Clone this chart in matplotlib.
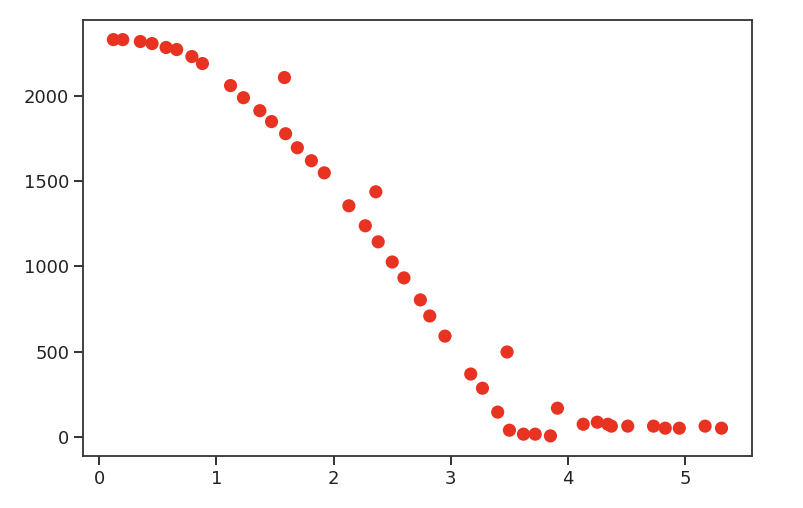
import numpy as np
import matplotlib
matplotlib.use("Agg")
import matplotlib.pyplot as plt

# values
x = [0.12, 0.20, 0.35, 0.45, 0.57, 0.66, 0.79, 0.88, 1.12, 1.23,
     1.37, 1.47, 1.59, 1.58, 1.69, 1.81, 1.92, 2.13, 2.27, 2.36,
     2.38, 2.50, 2.60, 2.74, 2.82, 2.95, 3.17, 3.27, 3.40, 3.48,
     3.50, 3.62, 3.72, 3.85, 3.91, 4.13, 4.25, 4.34, 4.37, 4.51,
     4.73, 4.83, 4.95, 5.17, 5.31]
y = [2328, 2328, 2317, 2305, 2282, 2270, 2229, 2188, 2059, 1988,
     1912, 1848, 1777, 2106, 1695, 1619, 1548, 1355, 1238, 1437,
     1144, 1026, 933, 804, 710, 592, 370, 287, 147, 499,
     41, 18, 18, 8, 170, 76, 88, 76, 65, 65,
     65, 53, 53, 65, 53]

fig = plt.figure(figsize=(8.04, 5.08), dpi=100)
ax = fig.add_axes([0.1032, 0.103, 0.832, 0.858])
ax.scatter(x, y, s=90, color='#e83323', edgecolors='none')

ax.set_xticks([0, 1, 2, 3, 4, 5])
ax.set_yticks([0, 500, 1000, 1500, 2000])
ax.tick_params(labelsize=13, length=6.5, width=1.3, colors='#222222')
for sp in ax.spines.values():
    sp.set_linewidth(1.3)
    sp.set_color('#333333')

fig.savefig('out.png', dpi=100)
